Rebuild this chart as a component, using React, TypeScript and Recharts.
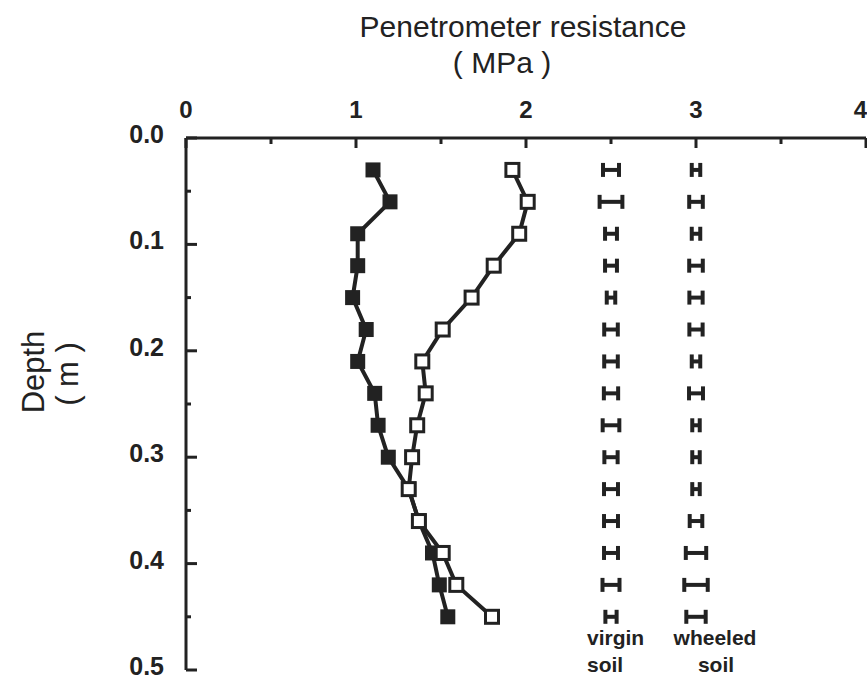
import { ScatterChart, Scatter, XAxis, YAxis, ErrorBar, Customized } from "recharts";

// depth of each reading (m)
const depths = [0.03, 0.06, 0.09, 0.12, 0.15, 0.18, 0.21, 0.24, 0.27, 0.3, 0.33, 0.36, 0.39, 0.42, 0.45];
// mean resistance (MPa)
const filledResistance = [1.1, 1.2, 1.01, 1.01, 0.98, 1.06, 1.01, 1.11, 1.13, 1.19, 1.31, 1.37, 1.45, 1.49, 1.54];
const openResistance = [1.92, 2.01, 1.96, 1.81, 1.68, 1.51, 1.39, 1.41, 1.36, 1.33, 1.31, 1.37, 1.51, 1.59, 1.8];
// standard errors, drawn in their own columns
const virginSE = [0.047, 0.067, 0.035, 0.035, 0.025, 0.04, 0.04, 0.042, 0.049, 0.039, 0.041, 0.041, 0.041, 0.05, 0.033];
const wheeledSE = [0.025, 0.04, 0.025, 0.04, 0.039, 0.039, 0.025, 0.041, 0.022, 0.022, 0.022, 0.037, 0.06, 0.069, 0.057];
const virginColumn = 2.5;
const wheeledColumn = 3;

const xTicks = [0, 0.5, 1, 1.5, 2, 2.5, 3, 3.5, 4];
const yTicks = [0, 0.05, 0.1, 0.15, 0.2, 0.25, 0.3, 0.35, 0.4, 0.45, 0.5];

const INK = "#222";
const FONT = "'Liberation Sans', Arial, Helvetica, sans-serif";

const filled = depths.map((d, i) => ({ x: filledResistance[i], y: d }));
const open = depths.map((d, i) => ({ x: openResistance[i], y: d }));
const virginBars = depths.map((d, i) => ({ x: virginColumn, y: d, err: virginSE[i] }));
const wheeledBars = depths.map((d, i) => ({ x: wheeledColumn, y: d, err: wheeledSE[i] }));

function FilledSquare(props: any) {
  const { cx, cy } = props;
  return <rect x={cx - 7.5} y={cy - 7.5} width={15} height={15} fill={INK} />;
}

function OpenSquare(props: any) {
  const { cx, cy } = props;
  return <rect x={cx - 6.5} y={cy - 6.5} width={13} height={13} fill="#fff" stroke={INK} strokeWidth={3} />;
}

function NoMarker() {
  return <g />;
}

function TopTick(props: any) {
  const { x, y, payload } = props;
  const v = payload.value;
  const major = Number.isInteger(v);
  const last = v === 4;
  return (
    <g>
      <line x1={x} y1={y} x2={x} y2={y + (major ? 10 : 6)} stroke={INK} strokeWidth={3} />
      {major && (
        <text
          x={last ? x + 1 : x}
          y={y - 20}
          textAnchor={last ? "end" : "middle"}
          fontFamily={FONT}
          fontSize={24}
          fontWeight="bold"
          fill={INK}
        >
          {v}
        </text>
      )}
    </g>
  );
}

function LeftTick(props: any) {
  const { x, y, payload } = props;
  const v = payload.value;
  const major = Math.abs(v * 10 - Math.round(v * 10)) < 1e-6;
  return (
    <g>
      <line x1={x} y1={y} x2={x + (major ? 11 : 5)} y2={y} stroke={INK} strokeWidth={3} />
      {major && (
        <text x={x - 22} y={y + 5} textAnchor="end" fontFamily={FONT} fontSize={25} fontWeight="bold" fill={INK}>
          {v.toFixed(1)}
        </text>
      )}
    </g>
  );
}

function Annotations() {
  return (
    <g fontFamily={FONT} fill={INK}>
      <text x={523} y={37} textAnchor="middle" fontSize={30}>
        Penetrometer resistance
      </text>
      <text x={502} y={73} textAnchor="middle" fontSize={30}>
        ( MPa )
      </text>
      <text transform="translate(44,372) rotate(-90)" textAnchor="middle" fontSize={31}>
        Depth
      </text>
      <text transform="translate(78,374) rotate(-90)" textAnchor="middle" fontSize={31}>
        ( m )
      </text>
      <text x={587} y={645} fontSize={21} fontWeight="bold">
        virgin
      </text>
      <text x={587} y={672} fontSize={21} fontWeight="bold">
        soil
      </text>
      <text x={715} y={645} textAnchor="middle" fontSize={21} fontWeight="bold">
        wheeled
      </text>
      <text x={716} y={672} textAnchor="middle" fontSize={21} fontWeight="bold">
        soil
      </text>
    </g>
  );
}

export default function App() {
  return (
    <div style={{ position: "absolute", left: 0, top: 0, width: 867, height: 684, background: "#fff" }}>
      <ScatterChart width={867} height={684} margin={{ top: 38, right: 1, bottom: 14, left: 0 }}>
        <XAxis
          type="number"
          dataKey="x"
          orientation="top"
          domain={[0, 4]}
          ticks={xTicks}
          interval={0}
          height={100}
          allowDataOverflow
          tickSize={0}
          tickMargin={0}
          tickLine={false}
          tick={<TopTick />}
          axisLine={{ stroke: INK, strokeWidth: 3 }}
        />
        <YAxis
          type="number"
          dataKey="y"
          reversed
          domain={[0, 0.5]}
          ticks={yTicks}
          interval={0}
          width={186}
          allowDataOverflow
          tickSize={0}
          tickMargin={0}
          tickLine={false}
          tick={<LeftTick />}
          axisLine={{ stroke: INK, strokeWidth: 3 }}
        />
        <Scatter data={virginBars} shape={<NoMarker />} isAnimationActive={false}>
          <ErrorBar dataKey="err" direction="x" width={7} strokeWidth={4} stroke={INK} isAnimationActive={false} />
        </Scatter>
        <Scatter data={wheeledBars} shape={<NoMarker />} isAnimationActive={false}>
          <ErrorBar dataKey="err" direction="x" width={7} strokeWidth={4} stroke={INK} isAnimationActive={false} />
        </Scatter>
        <Scatter
          data={filled}
          shape={<FilledSquare />}
          line={{ stroke: INK, strokeWidth: 4 }}
          isAnimationActive={false}
        />
        <Scatter
          data={open}
          shape={<OpenSquare />}
          line={{ stroke: INK, strokeWidth: 4 }}
          isAnimationActive={false}
        />
        <Customized component={Annotations} />
      </ScatterChart>
    </div>
  );
}
